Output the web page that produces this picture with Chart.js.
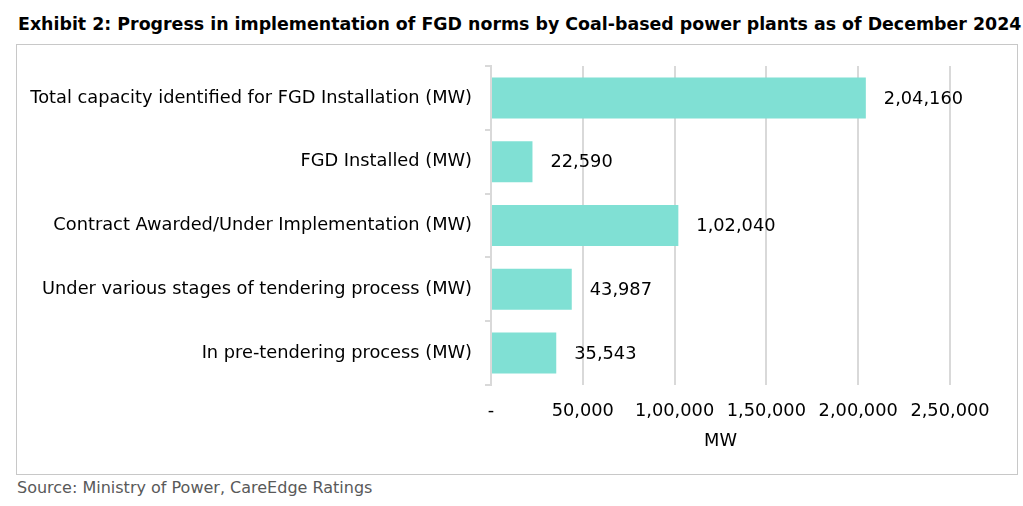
<!DOCTYPE html>
<html>
<head>
<meta charset="utf-8">
<script src="https://cdn.jsdelivr.net/npm/chart.js@4"></script>
<style>
  html, body { margin: 0; padding: 0; background: #fff; }
  body { width: 1023px; height: 506px; position: relative; overflow: hidden; font-family: "DejaVu Sans", Verdana, sans-serif; }
  #title { position: absolute; left: 18px; top: 14px; font-weight: bold; font-size: 17.4px; color: #000; white-space: nowrap; }
  #box { position: absolute; left: 16px; top: 44px; width: 1000px; height: 429px; border: 1.5px solid #c8c8c8; }
  #c { position: absolute; left: 17px; top: 45px; }
  #source { position: absolute; left: 17px; top: 478px; font-size: 16px; color: #595959; white-space: nowrap; }
</style>
</head>
<body>
<div id="title">Exhibit 2: Progress in implementation of FGD norms by Coal-based power plants as of December 2024</div>
<div id="box"></div>
<canvas id="c" width="1000" height="429" style="width:1000px;height:429px"></canvas>
<div id="source">Source: Ministry of Power, CareEdge Ratings</div>
<script>
const categories = [
  "Total capacity identified for FGD Installation (MW)",
  "FGD Installed (MW)",
  "Contract Awarded/Under Implementation (MW)",
  "Under various stages of tendering process (MW)",
  "In pre-tendering process (MW)"
];
const capacityMW = [204160, 22590, 102040, 43987, 35543];
const xTickMax = 250000;
const xTickStep = 50000;
const xAxisTitle = "MW";

function indianFormat(v) {
  if (v === 0) return "-";
  const s = Math.round(v).toString();
  if (s.length <= 3) return s;
  const last3 = s.slice(-3);
  let rest = s.slice(0, -3);
  const parts = [];
  while (rest.length > 2) { parts.unshift(rest.slice(-2)); rest = rest.slice(0, -2); }
  if (rest.length) parts.unshift(rest);
  return parts.join(",") + "," + last3;
}

const FONT = "'DejaVu Sans', Verdana, sans-serif";
const FS = 17.8;

const valueLabels = {
  id: 'valueLabels',
  afterDatasetsDraw(chart) {
    const ctx = chart.ctx;
    const meta = chart.getDatasetMeta(0);
    ctx.save();
    ctx.font = FS + "px " + FONT;
    ctx.fillStyle = "#000";
    ctx.textAlign = "left";
    ctx.textBaseline = "middle";
    meta.data.forEach((bar, i) => {
      ctx.fillText(indianFormat(capacityMW[i]), bar.x + 18, bar.y + 1);
    });
    ctx.restore();
  }
};

new Chart(document.getElementById('c'), {
  type: 'bar',
  data: {
    labels: categories,
    datasets: [{
      data: capacityMW,
      backgroundColor: '#80e0d4',
      borderWidth: 0,
      barPercentage: 0.643,
      categoryPercentage: 1
    }]
  },
  options: {
    indexAxis: 'y',
    responsive: false,
    animation: false,
    devicePixelRatio: 1,
    layout: { padding: { left: 0, right: 67, top: 21, bottom: 0 } },
    plugins: { legend: { display: false }, tooltip: { enabled: false }, title: { display: false } },
    scales: {
      x: {
        min: 0, max: xTickMax,
        ticks: {
          stepSize: xTickStep,
          padding: 16,
          color: '#000',
          font: { family: FONT, size: FS },
          maxRotation: 0,
          callback: (v) => indianFormat(v)
        },
        grid: { color: '#d9d9d9', lineWidth: 2, drawTicks: false },
        border: { display: false },
        title: { display: true, text: xAxisTitle, color: '#000', font: { family: FONT, size: FS }, padding: { top: 0, bottom: 22 } },
        afterFit(scale) { scale.height = 89; scale.paddingLeft = 0; scale.paddingRight = 0; }
      },
      y: {
        ticks: { color: '#000', font: { family: FONT, size: FS }, padding: 13 },
        grid: { drawOnChartArea: false, drawTicks: true, tickLength: 6, color: '#d9d9d9', lineWidth: 2 },
        border: { display: true, color: '#d9d9d9', width: 2 },
        afterFit(scale) { scale.width = 474; scale.paddingTop = 0; scale.paddingBottom = 0; }
      }
    }
  },
  plugins: [valueLabels]
});
</script>
</body>
</html>
